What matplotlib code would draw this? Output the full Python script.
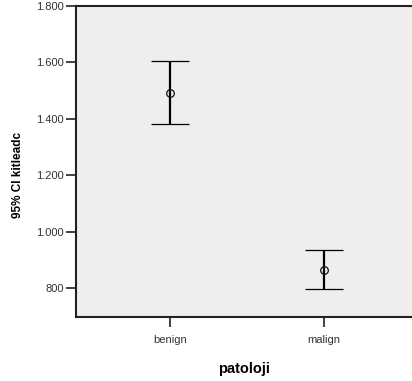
import matplotlib
matplotlib.use('Agg')
import matplotlib.pyplot as plt
from matplotlib.ticker import FuncFormatter

# Data
categories = ["benign", "malign"]
means = [1493, 864]
ci_lower = [1380, 797]
ci_upper = [1605, 933]
y_ticks = [800, 1000, 1200, 1400, 1600, 1800]

plt.rcParams['font.family'] = ['Liberation Sans', 'DejaVu Sans']

fig = plt.figure(figsize=(4.12, 3.81), dpi=100)
ax = fig.add_axes([76 / 412, 1 - 317 / 381, (413 - 76) / 412, (317 - 6) / 381])
ax.set_facecolor('#eeeeee')

xpos = [1, 2]
yerr = [[m - lo for m, lo in zip(means, ci_lower)],
        [hi - m for m, hi in zip(means, ci_upper)]]
ax.errorbar(xpos, means, yerr=yerr, fmt='o', mfc='none', mec='#111111', ms=5.5, mew=0.9,
            ecolor='black', elinewidth=1.6, capsize=14, capthick=1.6)

ax.set_xlim(0.386, 2.58)
ax.set_ylim(697, 1800)
ax.set_xticks(xpos)
ax.set_xticklabels(categories)
ax.set_yticks(y_ticks)
ax.yaxis.set_major_formatter(FuncFormatter(lambda v, p: "{:,.0f}".format(v).replace(",", ".")))

for side in ['left', 'bottom', 'top']:
    ax.spines[side].set_linewidth(1.5)
    ax.spines[side].set_color('#222222')
ax.spines['right'].set_visible(False)

ax.tick_params(axis='both', labelsize=8, length=7, width=1.2, color='#222222', labelcolor='#333333')
ax.tick_params(axis='y', pad=2)
ax.tick_params(axis='x', pad=6)

ax.set_xlabel("patoloji", fontsize=10.5, fontweight='bold', labelpad=12)
ax.set_ylabel("95% CI kitleadc", fontsize=8.5, fontweight='bold')
ax.yaxis.set_label_coords(-0.154, 0.457)

fig.savefig('out.png', dpi=100)
